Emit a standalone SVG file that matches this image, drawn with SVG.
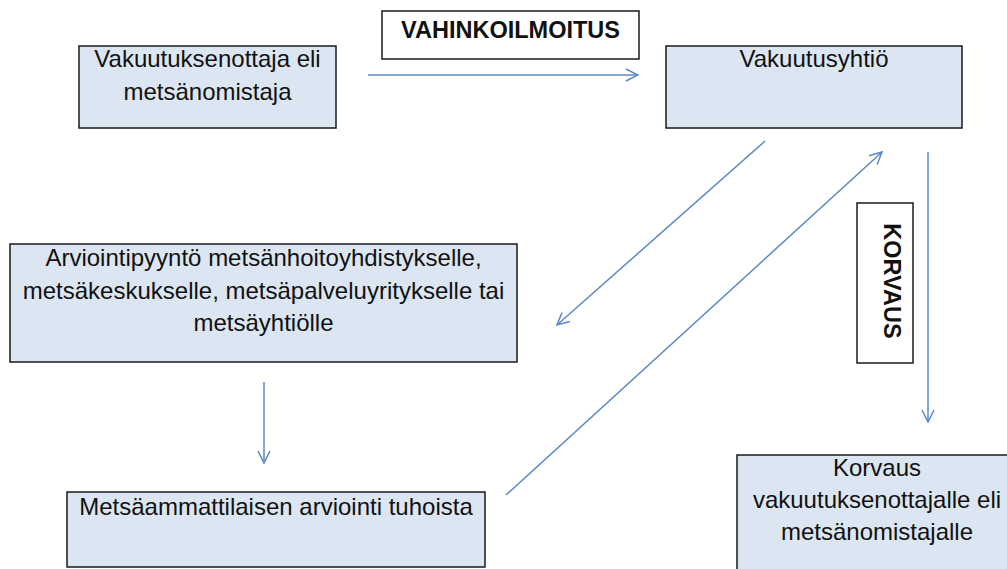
<svg xmlns="http://www.w3.org/2000/svg" width="1007" height="569" viewBox="0 0 1007 569">
<style>
.box{fill:#dce6f2;stroke:#1a1a1a;stroke-width:1.5}
.lbl{fill:#fff;stroke:#1a1a1a;stroke-width:1.5}
.t{font-family:"Liberation Sans",Arial,sans-serif;font-size:24px;fill:#111;text-anchor:middle}
.b{font-family:"Liberation Sans",Arial,sans-serif;font-size:23.5px;font-weight:bold;fill:#111;text-anchor:middle}
.c{stroke:#5b88c4;stroke-width:1.5;fill:none;marker-end:url(#arr)}
</style>
<defs>
<marker id="arr" viewBox="0 0 14 14" refX="13" refY="7" markerWidth="14" markerHeight="14" markerUnits="userSpaceOnUse" orient="auto">
<path d="M1,1 L13,7 L1,13" fill="none" stroke="#5b88c4" stroke-width="1.5"/>
</marker>
</defs>
<rect width="1007" height="569" fill="#fff"/>
<g id="n1"><rect class="box" x="79" y="46" width="257" height="82"/>
<text class="t" x="207.5" y="67">Vakuutuksenottaja eli</text>
<text class="t" x="207.5" y="100">metsänomistaja</text></g>
<g id="lbl1"><rect class="lbl" x="382" y="11" width="257" height="48"/>
<text class="b" x="510.5" y="38">VAHINKOILMOITUS</text></g>
<g id="n2"><rect class="box" x="666" y="46" width="296" height="82"/>
<text class="t" x="814" y="67">Vakuutusyhtiö</text></g>
<g id="lbl2"><rect class="lbl" x="857" y="203" width="56" height="160"/>
<text class="b" transform="translate(884,281) rotate(90)">KORVAUS</text></g>
<g id="n3"><rect class="box" x="10" y="244" width="507" height="118"/>
<text class="t" x="263.5" y="266">Arviointipyyntö metsänhoitoyhdistykselle,</text>
<text class="t" x="263.5" y="299">metsäkeskukselle, metsäpalveluyritykselle tai</text>
<text class="t" x="263.5" y="331">metsäyhtiölle</text></g>
<g id="n4"><rect class="box" x="67" y="492" width="418" height="75"/>
<text class="t" x="276" y="515">Metsäammattilaisen arviointi tuhoista</text></g>
<g id="n5"><rect class="box" x="737" y="455" width="275" height="120"/>
<text class="t" x="877" y="476">Korvaus</text>
<text class="t" x="877" y="508">vakuutuksenottajalle eli</text>
<text class="t" x="877" y="540">metsänomistajalle</text></g>
<g id="connectors">
<line class="c" x1="368" y1="75" x2="638" y2="75"/>
<line class="c" x1="765" y1="141" x2="557" y2="325"/>
<line class="c" x1="506" y1="495" x2="882" y2="152"/>
<line class="c" x1="928" y1="152" x2="928" y2="422"/>
<line class="c" x1="264" y1="382" x2="264" y2="463"/>
</g>
</svg>
